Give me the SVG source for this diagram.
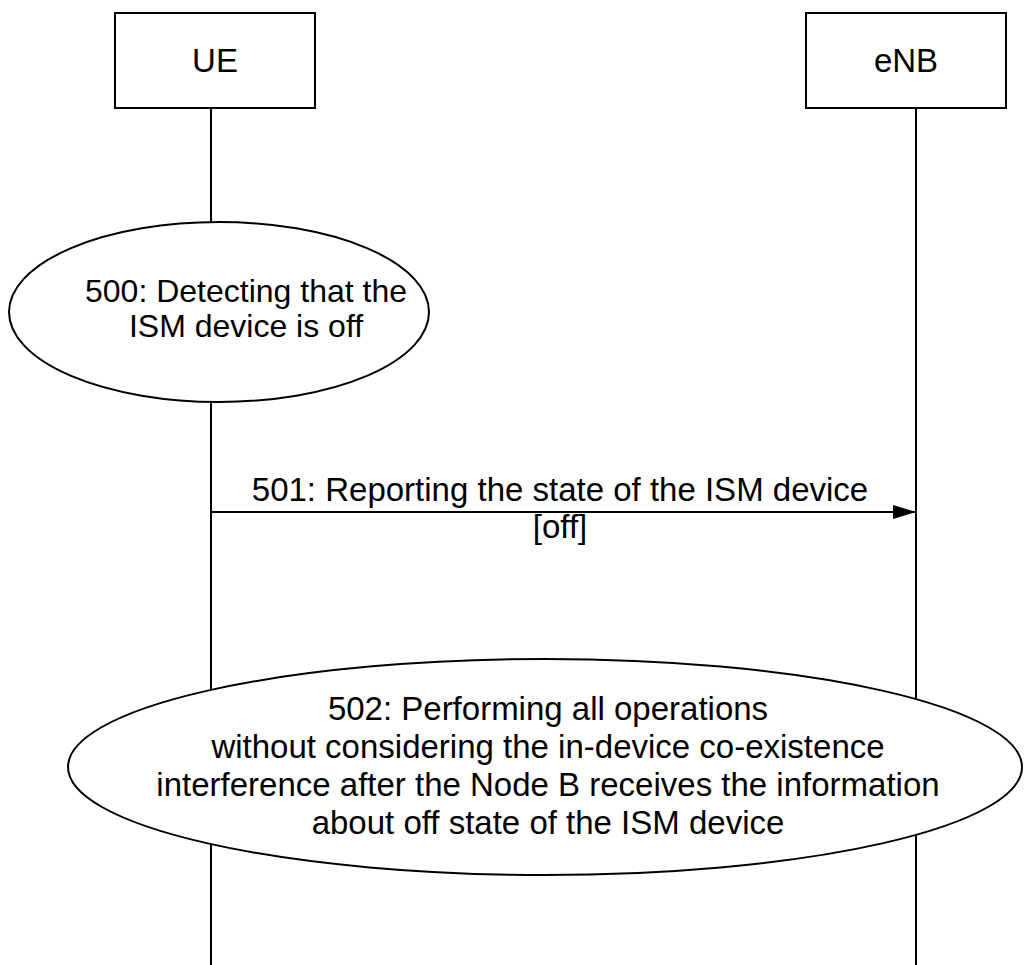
<svg xmlns="http://www.w3.org/2000/svg" width="1024" height="965" viewBox="0 0 1024 965">
<style>
.box{fill:#fff;stroke:#000;stroke-width:2}
.life{stroke:#000;stroke-width:2;fill:none}
.ell{fill:#fff;stroke:#000;stroke-width:2}
text{font-family:"Liberation Sans",Arial,sans-serif;font-size:33px;fill:#000;text-anchor:middle}
.s{font-size:32px}
</style>
<defs>
<marker id="arr" markerWidth="24" markerHeight="16" refX="23" refY="7" orient="auto" markerUnits="userSpaceOnUse">
<path d="M0,0 L23,7 L0,14 Z" fill="#000"/>
</marker>
</defs>
<g id="lifelines">
<line class="life" x1="211" y1="108" x2="211" y2="965"/>
<line class="life" x1="916" y1="108" x2="916" y2="965"/>
</g>
<g id="UE">
<rect class="box" x="115" y="13" width="200" height="95"/>
<text x="215" y="72">UE</text>
</g>
<g id="eNB">
<rect class="box" x="806" y="13" width="200" height="95"/>
<text x="906" y="72">eNB</text>
</g>
<g id="step500">
<ellipse class="ell" cx="219" cy="312" rx="210" ry="90"/>
<text class="s" x="246" y="302">500: Detecting that the</text>
<text class="s" x="246" y="337">ISM device is off</text>
</g>
<g id="connectors">
<line class="life" x1="211" y1="512" x2="916" y2="512" marker-end="url(#arr)"/>
<text x="560" y="501">501: Reporting the state of the ISM device</text>
<text x="560" y="538">[off]</text>
</g>
<g id="step502">
<ellipse class="ell" cx="545" cy="767" rx="477" ry="108"/>
<text x="548" y="720">502: Performing all operations</text>
<text x="548" y="758">without considering the in-device co-existence</text>
<text x="548" y="796">interference after the Node B receives the information</text>
<text x="548" y="834">about off state of the ISM device</text>
</g>
</svg>
